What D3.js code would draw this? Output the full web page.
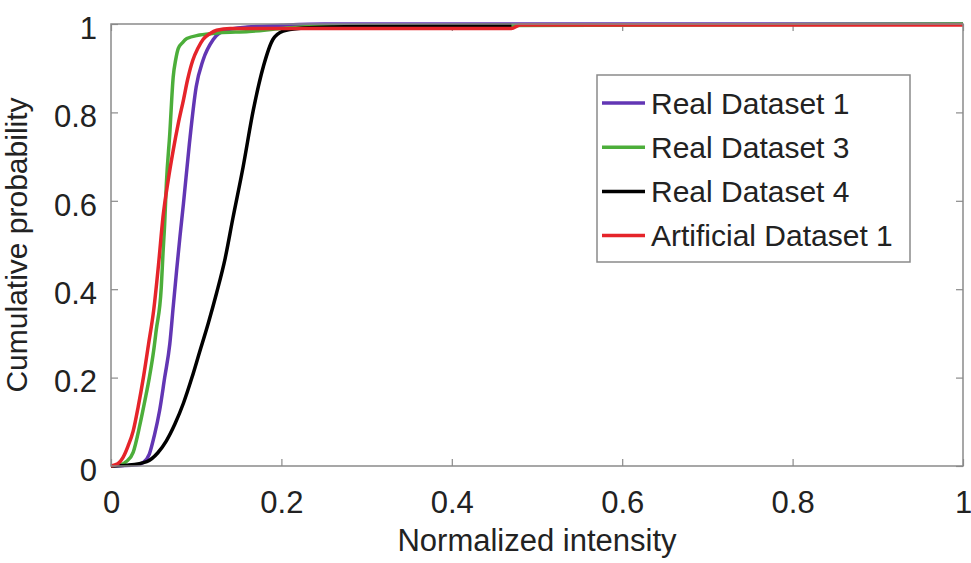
<!DOCTYPE html>
<html>
<head>
<meta charset="utf-8">
<script src="https://cdn.jsdelivr.net/npm/d3@7"></script>
<style>
  body { margin: 0; background: #fff; }
  svg { display: block; font-family: "Liberation Sans", Arial, sans-serif; }
</style>
</head>
<body>
<script>
// Series names and colours (legend order)
const seriesNames = ["Real Dataset 1", "Real Dataset 3", "Real Dataset 4", "Artificial Dataset 1"];
const seriesColors = ["#6236b4", "#4cae3a", "#000000", "#e5242a"];

// Values: normalized intensity (x) and cumulative probability (y)
const real1X = [0, 0.03, 0.038, 0.045, 0.051, 0.057, 0.063, 0.069, 0.073, 0.077, 0.081, 0.085, 0.092, 0.1, 0.108, 0.12, 0.135, 0.16, 0.2, 0.25, 1];
const real1Y = [0, 0.002, 0.008, 0.027, 0.07, 0.125, 0.2, 0.276, 0.36, 0.442, 0.52, 0.593, 0.729, 0.858, 0.918, 0.965, 0.986, 0.993, 0.997, 1, 1];

const real3X = [0, 0.012, 0.018, 0.026, 0.034, 0.04, 0.045, 0.05, 0.053, 0.059, 0.061, 0.063, 0.065, 0.069, 0.073, 0.076, 0.079, 0.084, 0.089, 0.104, 0.127, 0.162, 0.2, 0.25, 1];
const real3Y = [0, 0.003, 0.01, 0.031, 0.094, 0.15, 0.2, 0.26, 0.306, 0.404, 0.48, 0.548, 0.639, 0.752, 0.88, 0.92, 0.945, 0.958, 0.967, 0.975, 0.98, 0.983, 0.99, 0.995, 1];

const real4X = [0, 0.02, 0.042, 0.055, 0.065, 0.075, 0.085, 0.095, 0.104, 0.114, 0.124, 0.134, 0.143, 0.155, 0.167, 0.179, 0.19, 0.202, 0.22, 0.26, 0.3, 0.47];
const real4Y = [0, 0.002, 0.01, 0.03, 0.057, 0.095, 0.142, 0.2, 0.258, 0.322, 0.392, 0.47, 0.56, 0.676, 0.805, 0.905, 0.965, 0.984, 0.99, 0.993, 0.995, 0.997];

const art1X = [0, 0.008, 0.014, 0.02, 0.026, 0.032, 0.038, 0.044, 0.05, 0.056, 0.061, 0.067, 0.073, 0.079, 0.085, 0.09, 0.096, 0.102, 0.108, 0.116, 0.124, 0.14, 0.47, 0.48, 1];
const art1Y = [0, 0.005, 0.019, 0.045, 0.079, 0.135, 0.2, 0.275, 0.351, 0.46, 0.563, 0.645, 0.714, 0.775, 0.828, 0.875, 0.918, 0.945, 0.965, 0.978, 0.986, 0.99, 0.99, 0.998, 0.998];

const xTicks = [0, 0.2, 0.4, 0.6, 0.8, 1];
const yTicks = [0, 0.2, 0.4, 0.6, 0.8, 1];

let series = [
    { name: seriesNames[0], color: seriesColors[0], values: d3.zip(real1X, real1Y) },
    { name: seriesNames[1], color: seriesColors[1], values: d3.zip(real3X, real3Y) },
    { name: seriesNames[2], color: seriesColors[2], values: d3.zip(real4X, real4Y) },
    { name: seriesNames[3], color: seriesColors[3], values: d3.zip(art1X, art1Y) }
];

let width = 971;
let height = 563;
let marginTop = 24;
let marginRight = 8;
let marginBottom = 97;
let marginLeft = 111;
let tickLen = 7;
let axisColor = "#8a8a8a";
let textColor = "#222";
let fontSize = 31;

let x = d3.scaleLinear()
    .domain([0, 1])
    .range([marginLeft, width - marginRight]);

let y = d3.scaleLinear()
    .domain([0, 1])
    .range([height - marginBottom, marginTop]);

let svg = d3.select("body").append("svg")
    .attr("width", width)
    .attr("height", height)
    .attr("viewBox", [0, 0, width, height]);

let fmt = d3.format("~g");

// Ticks on all four sides, pointing inward (MATLAB box style)
function styleAxis(g) {
    g.select(".domain").remove();
    g.selectAll(".tick line").attr("stroke", axisColor).attr("stroke-width", 1.2);
}

svg.append("g")
    .attr("transform", `translate(0,${height - marginBottom})`)
    .call(d3.axisBottom(x).tickValues(xTicks).tickSize(-tickLen).tickFormat(fmt).tickPadding(0))
    .call(styleAxis)
    .call(g => g.selectAll(".tick text")
        .attr("y", 47)
        .attr("dy", null)
        .attr("fill", textColor)
        .attr("font-size", fontSize)
        .attr("font-family", null));

svg.append("g")
    .attr("transform", `translate(0,${marginTop})`)
    .call(d3.axisTop(x).tickValues(xTicks).tickSize(-tickLen).tickFormat(""))
    .call(styleAxis);

svg.append("g")
    .attr("transform", `translate(${marginLeft},0)`)
    .call(d3.axisLeft(y).tickValues(yTicks).tickSize(-tickLen).tickFormat(fmt))
    .call(styleAxis)
    .call(g => g.selectAll(".tick text")
        .attr("x", -14)
        .attr("dy", "0.46em")
        .attr("fill", textColor)
        .attr("font-size", fontSize)
        .attr("font-family", null));

svg.append("g")
    .attr("transform", `translate(${width - marginRight},0)`)
    .call(d3.axisRight(y).tickValues(yTicks).tickSize(-tickLen).tickFormat(""))
    .call(styleAxis);

// Axis labels
svg.append("text")
    .attr("x", (marginLeft + width - marginRight) / 2)
    .attr("y", 551)
    .attr("text-anchor", "middle")
    .attr("font-size", fontSize)
    .attr("fill", textColor)
    .text("Normalized intensity");

svg.append("text")
    .attr("transform", `translate(27,${(marginTop + height - marginBottom) / 2}) rotate(-90)`)
    .attr("text-anchor", "middle")
    .attr("font-size", 30)
    .attr("fill", textColor)
    .text("Cumulative probability");

// Lines
const line = d3.line()
    .curve(d3.curveMonotoneX)
    .x(d => x(d[0]))
    .y(d => y(d[1]));

svg.append("g")
    .selectAll("path")
    .data(series)
    .join("path")
    .attr("fill", "none")
    .attr("stroke", d => d.color)
    .attr("stroke-width", 3.5)
    .attr("stroke-linejoin", "round")
    .attr("d", d => line(d.values));

// Plot box
svg.append("rect")
    .attr("x", marginLeft)
    .attr("y", marginTop)
    .attr("width", width - marginLeft - marginRight)
    .attr("height", height - marginTop - marginBottom)
    .attr("fill", "none")
    .attr("stroke", axisColor)
    .attr("stroke-width", 1.5);

// Legend
const legend = svg.append("g")
    .attr("transform", "translate(597,75)");

legend.append("rect")
    .attr("width", 313)
    .attr("height", 187)
    .attr("fill", "#fff")
    .attr("stroke", axisColor)
    .attr("stroke-width", 1.5);

series.forEach((d, i) => {
    const row = legend.append("g")
        .attr("transform", `translate(0,${28 + i * 44.2})`);

    row.append("line")
        .attr("x1", 5)
        .attr("x2", 48)
        .attr("stroke", d.color)
        .attr("stroke-width", 3.5);

    row.append("text")
        .attr("x", 54)
        .attr("dy", "0.36em")
        .attr("font-size", 30)
        .attr("fill", textColor)
        .text(d.name);
});
</script>
</body>
</html>
